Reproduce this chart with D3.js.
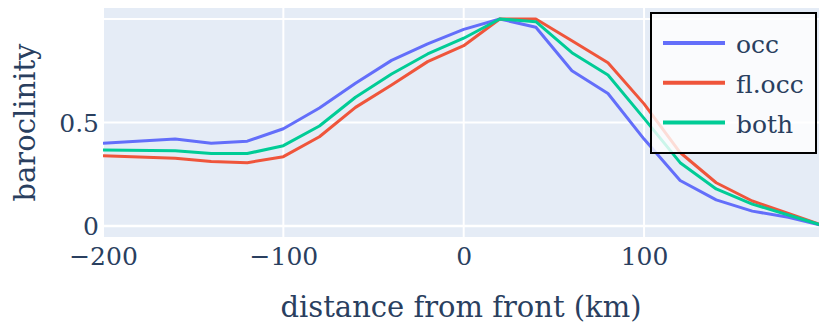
<!DOCTYPE html>
<html>
<head>
<meta charset="utf-8">
<script src="https://cdn.jsdelivr.net/npm/d3@7"></script>
<style>
  html, body { margin: 0; padding: 0; background: #fff; }
  svg { display: block; }
  svg text { font-family: "DejaVu Serif", serif; }
</style>
</head>
<body>
<svg id="chart" width="819" height="327"></svg>
<script>
// Distance from the front (km)
const distance = [-200, -160, -140, -120, -100, -80, -60, -40, -20, 0, 20, 40, 60, 80, 100, 120, 140, 160, 180, 200];

// Normalised baroclinity profiles
const occ   = [0.40, 0.42, 0.40, 0.41, 0.47, 0.57, 0.69, 0.80, 0.88, 0.95, 1.00, 0.96, 0.75, 0.64, 0.42, 0.22, 0.126, 0.072, 0.042, 0.0];
const flOcc = [0.34, 0.327, 0.312, 0.306, 0.335, 0.431, 0.573, 0.681, 0.794, 0.871, 1.00, 1.00, 0.895, 0.789, 0.59, 0.355, 0.209, 0.121, 0.061, 0.0];
const both  = [0.367, 0.364, 0.35, 0.35, 0.388, 0.483, 0.622, 0.734, 0.831, 0.907, 1.00, 0.987, 0.837, 0.729, 0.52, 0.306, 0.179, 0.106, 0.053, 0.0];

const seriesNames = ["occ", "fl.occ", "both"];
const seriesValues = [occ, flOcc, both];
const seriesColors = ["#636efa", "#ef553b", "#00cc96"];

const xTicks = [-200, -100, 0, 100];
const yTicks = [0, 0.5, 1];
const yTickLabels = ["0", "0.5", ""];

const xTitle = "distance from front (km)";
const yTitle = "baroclinity";

const plot = { left: 103, right: 819, top: 8, bottom: 237 };
const textColor = "#2a3f5f";
const serif = "DejaVu Serif, serif";

const svg = d3.select("#chart");

const x = d3.scaleLinear().domain([-200, 197]).range([plot.left, plot.right]);
const y = d3.scaleLinear().domain([-0.053, 1.053]).range([plot.bottom, plot.top]);

// Plot background
svg.append("rect")
  .attr("x", plot.left).attr("y", plot.top)
  .attr("width", plot.right - plot.left).attr("height", plot.bottom - plot.top)
  .attr("fill", "#e5ecf6");

// Grid lines
const grid = svg.append("g");
grid.selectAll("line.gx").data(xTicks).join("line")
  .attr("x1", d => x(d)).attr("x2", d => x(d))
  .attr("y1", plot.top).attr("y2", plot.bottom)
  .attr("stroke", "#fff").attr("stroke-width", 2);
grid.selectAll("line.gy").data(yTicks).join("line")
  .attr("x1", plot.left).attr("x2", plot.right)
  .attr("y1", d => y(d)).attr("y2", d => y(d))
  .attr("stroke", "#fff").attr("stroke-width", d => d === 0 ? 2.5 : 2);

// Axes (labels only, no domain lines)
const xAxis = d3.axisBottom(x).tickValues(xTicks).tickSize(0).tickPadding(0)
  .tickFormat(d => d3.format("")(d).replace("-", "\u2212"));
const gx = svg.append("g").attr("transform", `translate(0,${plot.bottom})`).call(xAxis);
gx.attr("font-family", null).attr("font-size", null);
gx.select(".domain").remove();
gx.selectAll("text").attr("dy", null).attr("y", 28)
  .style("font-family", serif).style("font-size", "25px").attr("fill", textColor);

const yAxis = d3.axisLeft(y).tickValues(yTicks).tickSize(0).tickPadding(0)
  .tickFormat((d, i) => yTickLabels[i]);
const gy = svg.append("g").attr("transform", `translate(${plot.left},0)`).call(yAxis);
gy.attr("font-family", null).attr("font-size", null);
gy.select(".domain").remove();
gy.selectAll("text").attr("dy", null).attr("x", -4).attr("y", 8.5)
  .style("font-family", serif).style("font-size", "25px").attr("fill", textColor);

// Axis titles
svg.append("text")
  .attr("x", (plot.left + plot.right) / 2).attr("y", 317)
  .attr("text-anchor", "middle").style("font-size", "29px").attr("fill", textColor)
  .text(xTitle);
svg.append("text")
  .attr("transform", `translate(35,${(plot.top + plot.bottom) / 2}) rotate(-90)`)
  .attr("text-anchor", "middle").style("font-size", "29px").attr("fill", textColor)
  .text(yTitle);

// Lines
svg.append("clipPath").attr("id", "plot-clip")
  .append("rect")
  .attr("x", plot.left).attr("y", plot.top)
  .attr("width", plot.right - plot.left).attr("height", plot.bottom - plot.top);

const line = d3.line().x((d, i) => x(distance[i])).y(d => y(d));
svg.append("g").attr("clip-path", "url(#plot-clip)")
  .selectAll("path").data(seriesValues).join("path")
  .attr("d", d => line(d))
  .attr("fill", "none")
  .attr("stroke", (d, i) => seriesColors[i])
  .attr("stroke-width", 3)
  .attr("stroke-linejoin", "round");

// Legend
const legend = svg.append("g");
legend.append("rect")
  .attr("x", 651).attr("y", 13).attr("width", 165).attr("height", 140)
  .attr("fill", "rgba(255,255,255,0.8)")
  .attr("stroke", "#000").attr("stroke-width", 2);
const items = legend.selectAll("g.item").data(seriesNames).join("g")
  .attr("transform", (d, i) => `translate(0,${43 + i * 39.8})`);
items.append("line")
  .attr("x1", 663).attr("x2", 725).attr("y1", 0).attr("y2", 0)
  .attr("stroke", (d, i) => seriesColors[i]).attr("stroke-width", 4);
items.append("text")
  .attr("x", 736).attr("y", 10)
  .style("font-size", "25px").attr("fill", textColor)
  .text(d => d);
</script>
</body>
</html>
